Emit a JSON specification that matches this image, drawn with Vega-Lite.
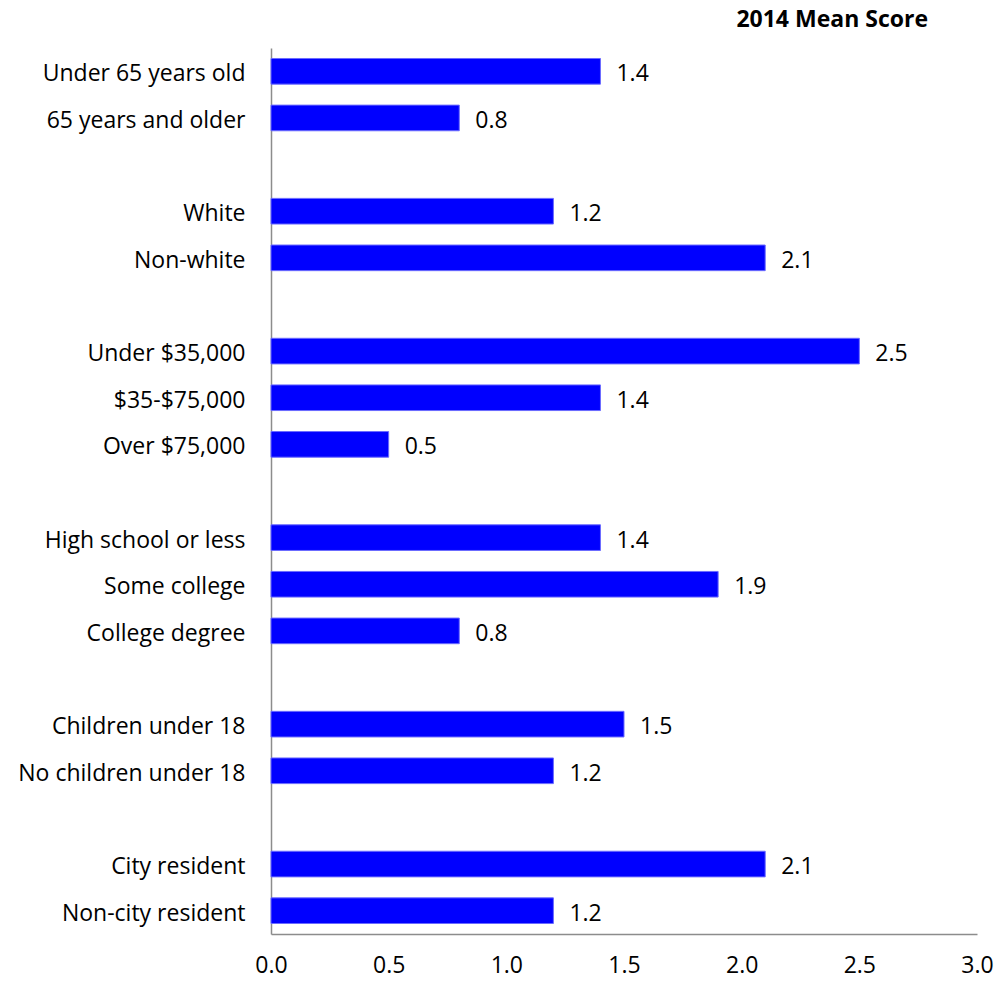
{
  "$schema": "https://vega.github.io/schema/vega-lite/v6.json",
  "width": 706,
  "height": 886,
  "autosize": {"type": "none"},
  "padding": {"left": 271, "top": 48, "right": 21, "bottom": 47},
  "background": "white",
  "view": {"stroke": null},
  "title": {
    "text": "2014 Mean Score",
    "anchor": "end",
    "frame": "group",
    "fontSize": 23,
    "fontWeight": "bold",
    "font": "Open Sans",
    "color": "black",
    "offset": 16,
    "dx": -49
  },
  "data": {
    "values": [
      {"category": "Under 65 years old", "score": 1.4},
      {"category": "65 years and older", "score": 0.8},
      {"category": "White", "score": 1.2},
      {"category": "Non-white", "score": 2.1},
      {"category": "Under $35,000", "score": 2.5},
      {"category": "$35-$75,000", "score": 1.4},
      {"category": "Over $75,000", "score": 0.5},
      {"category": "High school or less", "score": 1.4},
      {"category": "Some college", "score": 1.9},
      {"category": "College degree", "score": 0.8},
      {"category": "Children under 18", "score": 1.5},
      {"category": "No children under 18", "score": 1.2},
      {"category": "City resident", "score": 2.1},
      {"category": "Non-city resident", "score": 1.2}
    ]
  },
  "encoding": {
    "y": {
      "field": "category",
      "type": "nominal",
      "scale": {
        "domain": ["Under 65 years old", "65 years and older", " ", "White", "Non-white", "  ", "Under $35,000", "$35-$75,000", "Over $75,000", "   ", "High school or less", "Some college", "College degree", "    ", "Children under 18", "No children under 18", "     ", "City resident", "Non-city resident"],
        "paddingInner": 0.45,
        "paddingOuter": 0.225
      },
      "axis": {
        "title": null,
        "ticks": false,
        "domainColor": "#8c8c8c",
        "domainWidth": 1.5,
        "labelFont": "Open Sans",
        "labelFontSize": 23,
        "labelColor": "black",
        "labelPadding": 26,
        "labelOffset": 3,
        "labelLimit": 400
      }
    },
    "x": {
      "field": "score",
      "type": "quantitative",
      "scale": {"domain": [0, 3], "nice": false},
      "axis": {
        "title": null,
        "values": [0, 0.5, 1, 1.5, 2, 2.5, 3],
        "format": ".1f",
        "grid": false,
        "ticks": false,
        "domainColor": "#8c8c8c",
        "domainWidth": 1.5,
        "labelFont": "Open Sans",
        "labelFontSize": 23,
        "labelColor": "black",
        "labelPadding": 20,
        "labelFlush": false
      }
    }
  },
  "layer": [
    {
      "mark": {"type": "bar", "color": "#0000ff", "stroke": "#6b6bff", "strokeWidth": 1}
    },
    {
      "mark": {"type": "text", "align": "left", "dx": 16, "dy": 3, "font": "Open Sans", "fontSize": 23, "color": "black", "baseline": "middle"},
      "encoding": {"text": {"field": "score", "type": "quantitative", "format": ".1f"}}
    }
  ]
}
